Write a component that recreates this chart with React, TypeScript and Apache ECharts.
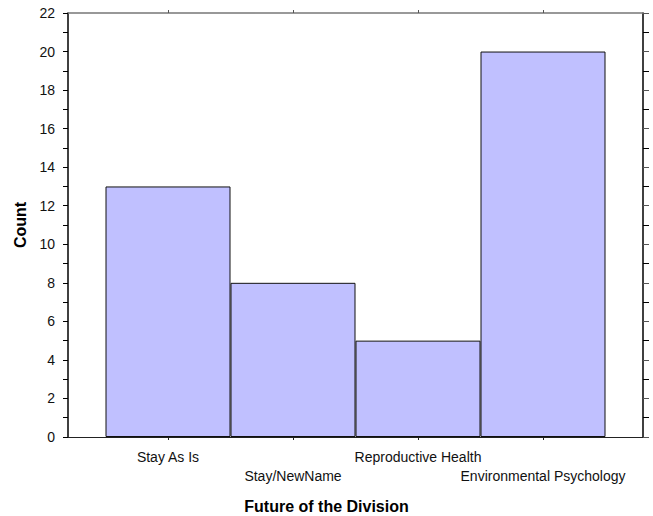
import React, { useEffect, useRef } from "react";
import * as echarts from "echarts";

const categories = ["Stay As Is", "Stay/NewName", "Reproductive Health", "Environmental Psychology"];
const counts = [13, 8, 5, 20];
const positions = [1, 2, 3, 4];
const yMin = 0;
const yMax = 22;
const yStep = 2;

export default function App() {
  const ref = useRef<HTMLDivElement>(null);
  useEffect(() => {
    if (!ref.current) return;
    const chart = echarts.init(ref.current, null, { renderer: "svg" });
    const font = "'Liberation Sans', Arial, sans-serif";
    const data = positions.map((p, i) => [p, counts[i]]);
    const upperRow = positions.filter((_, i) => i % 2 === 0);
    const lowerRow = positions.filter((_, i) => i % 2 === 1);
    const labelFmt = (v: number) => categories[Math.round(v) - 1] ?? "";
    const baseLabel = {
      show: true,
      showMinLabel: true,
      showMaxLabel: true,
      hideOverlap: false,
      fontSize: 14,
      color: "#111",
      fontFamily: font,
      formatter: labelFmt,
    };
    chart.setOption({
      animation: false,
      textStyle: { fontFamily: font },
      title: {
        text: "Future of the Division",
        left: "center",
        top: 497,
        padding: 0,
        textStyle: { fontFamily: font, fontSize: 16, fontWeight: "bold", color: "#000", lineHeight: 18 },
      },
      grid: { left: 68, right: 10, top: 13, bottom: 79 },
      xAxis: [
        {
          type: "value",
          position: "bottom",
          min: 0.2,
          max: 4.8,
          splitLine: { show: false },
          axisLine: { show: true, onZero: false, lineStyle: { color: "#222", width: 1 } },
          axisTick: { show: true, customValues: positions, length: 3, lineStyle: { color: "#222" } },
          axisLabel: { ...baseLabel, customValues: upperRow, margin: 13 },
        },
        {
          type: "value",
          position: "top",
          min: 0.2,
          max: 4.8,
          splitLine: { show: false },
          axisLine: { show: true, onZero: false, lineStyle: { color: "#777", width: 1.5 } },
          axisTick: { show: true, customValues: positions, length: 3, lineStyle: { color: "#555" } },
          axisLabel: { show: false },
        },
        {
          type: "value",
          position: "bottom",
          min: 0.2,
          max: 4.8,
          splitLine: { show: false },
          axisLine: { show: false, onZero: false },
          axisTick: { show: false },
          axisLabel: { ...baseLabel, customValues: lowerRow, margin: 32 },
        },
      ],
      yAxis: [
        {
          type: "value",
          position: "left",
          min: yMin,
          max: yMax,
          interval: yStep,
          name: "Count",
          nameLocation: "middle",
          nameGap: 39,
          nameRotate: 90,
          nameTextStyle: { fontFamily: font, fontSize: 16, fontWeight: "bold", color: "#000" },
          splitLine: { show: false },
          axisLine: { show: true, onZero: false, lineStyle: { color: "#000", width: 1.5 } },
          axisTick: { show: true, inside: false, length: 5, lineStyle: { color: "#000" } },
          minorTick: { show: true, splitNumber: 2, length: 5, lineStyle: { color: "#000" } },
          axisLabel: { show: true, margin: 13, fontSize: 14, color: "#111", fontFamily: font },
        },
        {
          type: "value",
          position: "right",
          min: yMin,
          max: yMax,
          interval: yStep,
          splitLine: { show: false },
          axisLine: { show: true, onZero: false, lineStyle: { color: "#000", width: 1.5 } },
          axisTick: { show: true, inside: false, length: 6, lineStyle: { color: "#555" } },
          minorTick: { show: true, splitNumber: 2, length: 6, lineStyle: { color: "#000" } },
          axisLabel: { show: false },
        },
      ],
      series: [
        {
          type: "bar",
          xAxisIndex: 0,
          yAxisIndex: 0,
          data,
          barWidth: 125,
          itemStyle: { color: "#c0c0ff", borderColor: "#111", borderWidth: 1 },
        },
      ],
    });
    return () => chart.dispose();
  }, []);
  return (
    <div
      ref={ref}
      style={{ position: "absolute", left: 0, top: 0, width: 653, height: 516, background: "#fff" }}
    />
  );
}
